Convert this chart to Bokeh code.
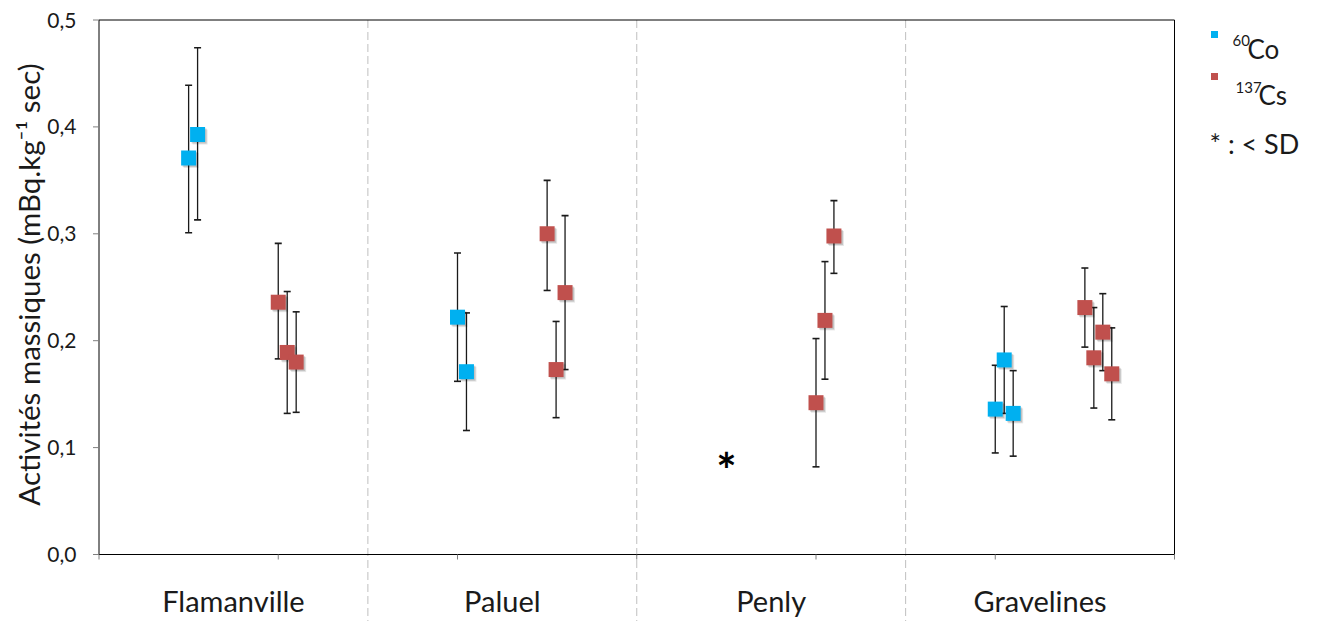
import math

from bokeh.core.properties import value
from bokeh.embed import file_html
from bokeh.models import ColumnDataSource, Range1d
from bokeh.plotting import figure
from bokeh.resources import INLINE

# ---- data -------------------------------------------------------------
sites = ["Flamanville", "Paluel", "Penly", "Gravelines"]

co_site = ["Flamanville", "Flamanville", "Paluel", "Paluel",
           "Gravelines", "Gravelines", "Gravelines"]
co_value = [0.371, 0.393, 0.222, 0.171, 0.136, 0.182, 0.132]
co_upper = [0.439, 0.474, 0.282, 0.226, 0.177, 0.232, 0.172]
co_lower = [0.301, 0.313, 0.162, 0.116, 0.095, 0.132, 0.092]

cs_site = ["Flamanville", "Flamanville", "Flamanville",
           "Paluel", "Paluel", "Paluel",
           "Penly", "Penly", "Penly",
           "Gravelines", "Gravelines", "Gravelines", "Gravelines"]
cs_value = [0.236, 0.189, 0.180, 0.300, 0.173, 0.245,
            0.142, 0.219, 0.298, 0.231, 0.184, 0.208, 0.169]
cs_upper = [0.291, 0.246, 0.227, 0.350, 0.218, 0.317,
            0.202, 0.274, 0.331, 0.268, 0.231, 0.244, 0.212]
cs_lower = [0.183, 0.132, 0.133, 0.247, 0.128, 0.173,
            0.082, 0.164, 0.263, 0.194, 0.137, 0.172, 0.126]

# sites where 60Co stayed below the detection threshold
co_below_sd = ["Penly"]

y_ticks = [0.0, 0.1, 0.2, 0.3, 0.4, 0.5]
x_ticks = [0, 1, 2, 3, 4, 5, 6]

# ---- layout helpers ---------------------------------------------------
W, H = 1317, 621
X0, KX = 98.5, 179.25     # pixel of x=0, pixels per x unit
Y0, KY = 554.0, 1069.0    # pixel of y=0, pixels per y unit


def dx(px):
    return (px - X0) / KX


def dy(py):
    return (Y0 - py) / KY


SITE_W = 1.5
CO_COLOR = "#00B0F0"
CS_COLOR = "#C0504D"
FONT = value("Lato")
TXT = "#1a1a1a"


def site_center(name):
    return SITE_W * sites.index(name) + SITE_W / 2


def positions(site_list, shift):
    xs, seen = [], {}
    for s in site_list:
        k = seen.get(s, 0)
        seen[s] = k + 1
        xs.append(site_center(s) + shift + 0.05 * k)
    return xs


co_x = positions(co_site, -0.25)
cs_x = positions(cs_site, +0.25)

p = figure(width=W, height=H, x_range=Range1d(dx(0), dx(W)),
           y_range=Range1d(dy(H), dy(0)), x_axis_type=None, y_axis_type=None,
           min_border=0, toolbar_location=None, output_backend="svg")
p.grid.visible = False
p.outline_line_color = None
p.background_fill_color = "white"
p.border_fill_color = "white"

# dashed separators between sites, running down through the label band
sep_x = [SITE_W * (i + 1) for i in range(len(sites) - 1)]
p.segment(x0=sep_x, x1=sep_x, y0=[y_ticks[-1]] * len(sep_x),
          y1=[dy(H)] * len(sep_x), line_color="#BFBFBF", line_width=1,
          line_dash="8 4")

# plot box / axes
xmin, xmax = x_ticks[0], x_ticks[-1]
ymin, ymax = y_ticks[0], y_ticks[-1]
p.segment(x0=[xmin, xmin, xmax, xmin], x1=[xmax, xmin, xmax, xmax],
          y0=[ymin, ymin, ymin, ymax], y1=[ymin, ymax, ymax, ymax],
          line_color="#000000", line_width=1)

# y ticks and labels
tick_len_x = 6 / KX
p.segment(x0=[xmin - tick_len_x] * len(y_ticks), x1=[xmin] * len(y_ticks),
          y0=y_ticks, y1=y_ticks, line_color="#7f7f7f", line_width=1)
p.text(x=[dx(76)] * len(y_ticks), y=y_ticks,
       text=[f"{t:.1f}".replace(".", ",") for t in y_ticks],
       text_font=FONT, text_font_size=value("21px"), text_color=TXT,
       text_align="right", text_baseline="middle")

# x ticks
tick_len_y = 5 / KY
p.segment(x0=x_ticks, x1=x_ticks, y0=[ymin] * len(x_ticks),
          y1=[ymin - tick_len_y] * len(x_ticks), line_color="#7f7f7f",
          line_width=1)

# site names
p.text(x=[site_center(s) for s in sites], y=[dy(600)] * len(sites),
       text=sites, text_font=FONT, text_font_size=value("29px"),
       text_color=TXT, text_align="center", text_baseline="middle")

# y axis title
p.text(x=[dx(28)], y=[dy(284)], text=["Activités massiques (mBq.kg⁻¹ sec)"],
       angle=math.pi / 2, text_font=FONT, text_font_size=value("29.5px"),
       text_color=TXT, text_align="center", text_baseline="middle")


def draw_series(xs, vals, lows, highs, color):
    src = ColumnDataSource(dict(x=xs, v=vals, lo=lows, hi=highs))
    p.segment(x0="x", x1="x", y0="lo", y1="hi", source=src,
              line_color="#1a1a1a", line_width=1.3)
    p.scatter(x="x", y="lo", source=src, marker="dash", size=7,
              line_color="#1a1a1a", line_width=1.6)
    p.scatter(x="x", y="hi", source=src, marker="dash", size=7,
              line_color="#1a1a1a", line_width=1.6)
    # soft drop shadow
    for off, a in ((2.5, 0.10), (1.5, 0.15)):
        p.scatter(x=[x + off / KX for x in xs], y=[v - off / KY for v in vals],
                  marker="square", size=15, fill_color="#000000",
                  fill_alpha=a, line_color=None)
    p.scatter(x="x", y="v", source=src, marker="square", size=15,
              fill_color=color, line_color=None)


draw_series(co_x, co_value, co_lower, co_upper, CO_COLOR)
draw_series(cs_x, cs_value, cs_lower, cs_upper, CS_COLOR)

# below-detection marker
p.text(x=[site_center(s) - 0.25 for s in co_below_sd],
       y=[dy(469)] * len(co_below_sd), text=["*"] * len(co_below_sd),
       text_font=FONT, text_font_size=value("48px"), text_font_style="bold",
       text_color="#000000", text_align="center", text_baseline="alphabetic")

# legend
p.scatter(x=[dx(1214), dx(1214)], y=[dy(34), dy(76)], marker="square",
          size=7, fill_color=[CO_COLOR, CS_COLOR], line_color=None)
p.text(x=[dx(1232), dx(1235)], y=[dy(40), dy(87)], text=["60", "137"],
       text_font=FONT, text_font_size=value("15px"), text_color=TXT,
       text_align="left", text_baseline="middle")
p.text(x=[dx(1247), dx(1258)], y=[dy(48), dy(94)], text=["Co", "Cs"],
       text_font=FONT, text_font_size=value("26px"), text_color=TXT,
       text_align="left", text_baseline="middle")
p.text(x=[dx(1209)], y=[dy(143)], text=["* : < SD"],
       text_font=FONT, text_font_size=value("27px"), text_color=TXT,
       text_align="left", text_baseline="middle")

open("out.html", "w").write(file_html(p, INLINE))
